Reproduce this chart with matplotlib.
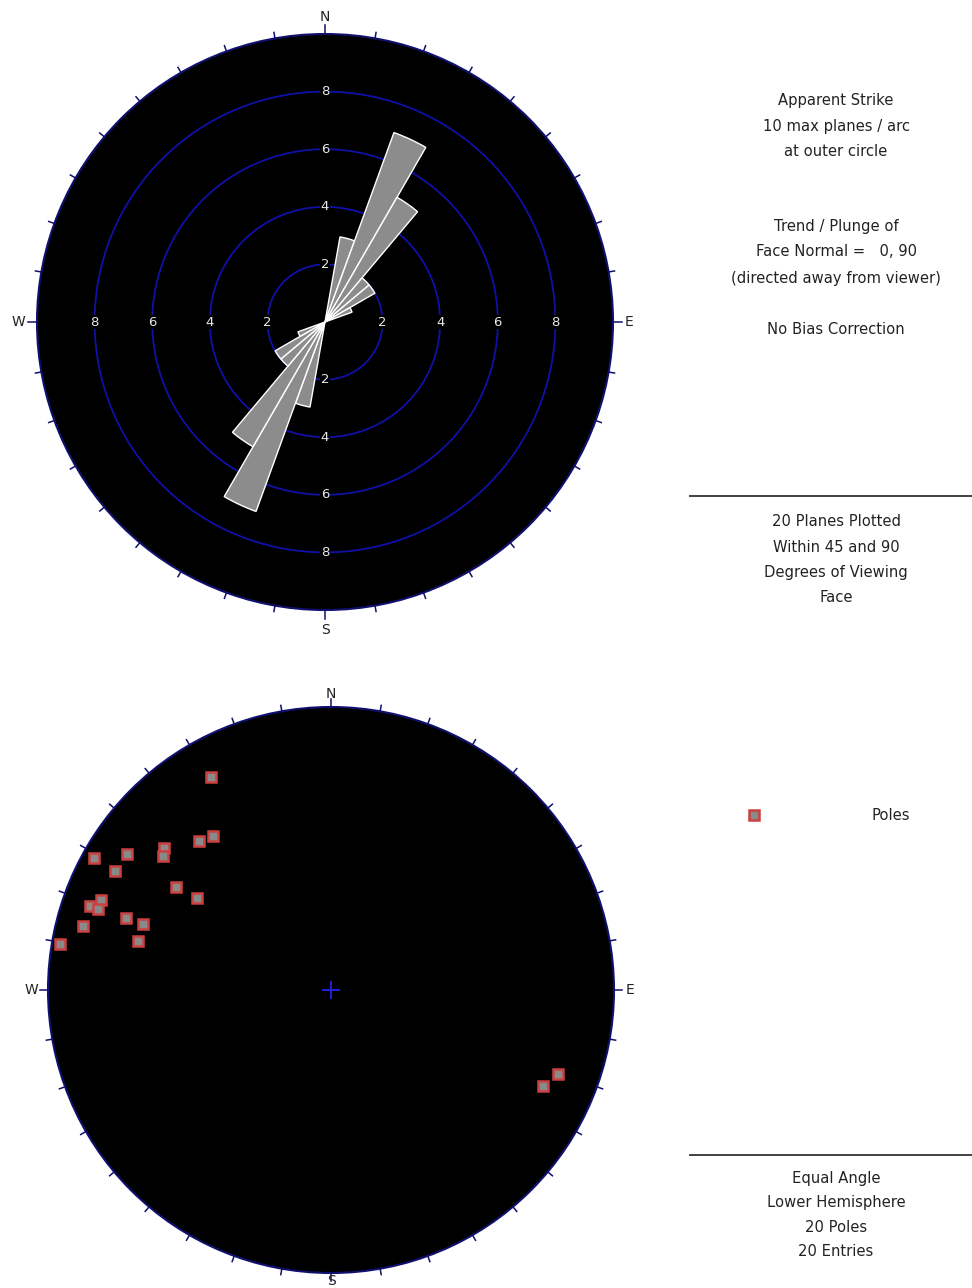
import numpy as np
import matplotlib
matplotlib.use("Agg")
import matplotlib.pyplot as plt
from matplotlib.patches import Circle, Wedge

# rose diagram: apparent strike counts in 10 degree bins (0-180, mirrored)
bin_start = np.arange(0, 180, 10)
strike_counts = [0, 3, 7, 5, 2, 2, 1, 0, 0, 0, 0, 0, 0, 0, 0, 0, 0, 0]
max_planes = 10
ring_values = [2, 4, 6, 8]

# poles (trend, plunge) in degrees
pole_trend = [330.5, 322.5, 318.4, 310.4, 308.6, 303.8, 299.1, 298.9, 303.7, 304.6,
              291.3, 289.1, 289.1, 289.5, 289.3, 284.4, 284.2, 279.6, 110.4, 114.4]
pole_plunge = [8.4, 21.1, 19.8, 14.5, 15.6, 8.2, 2.4, 7.9, 23.3, 30.2,
               7.9, 5.9, 7.9, 15.0, 19.8, 5.7, 19.8, 1.7, 9.0, 11.0]

info_top = [
    (101, "Apparent Strike"), (126, "10 max planes / arc"), (152, "at outer circle"),
    (227, "Trend / Plunge of"), (252, "Face Normal =   0, 90"),
    (278, "(directed away from viewer)"), (329, "No Bias Correction"),
    (522, "20 Planes Plotted"), (547, "Within 45 and 90"),
    (573, "Degrees of Viewing"), (598, "Face"),
]
info_bottom = [
    (1179, "Equal Angle"), (1203, "Lower Hemisphere"),
    (1227, "20 Poles"), (1251, "20 Entries"),
]

W, H = 972, 1288
RING = "#1010a8"
EDGE = "#10106e"
TXT = "#222222"
INFO_FS = 10.6

fig = plt.figure(figsize=(W / 100, H / 100), dpi=100)
fig.patch.set_facecolor("white")


def px_axes(x0, x1, y0, y1, cx, cy, scale):
    # axes placed in pixel box, data units = pixels / scale, origin at (cx, cy)
    ax = fig.add_axes([x0 / W, 1 - y1 / H, (x1 - x0) / W, (y1 - y0) / H])
    ax.set_xlim((x0 - cx) / scale, (x1 - cx) / scale)
    ax.set_ylim((cy - y1) / scale, (cy - y0) / scale)
    ax.set_aspect("equal")
    ax.axis("off")
    return ax


def compass_frame(ax, radius, tick_len, card_len, label_off):
    ax.add_patch(Circle((0, 0), radius, facecolor="black", edgecolor=EDGE, lw=1.5, zorder=1))
    for az in range(0, 360, 10):
        a = np.radians(az)
        ln = card_len if az % 90 == 0 else tick_len
        ax.plot([radius * np.sin(a), (radius + ln) * np.sin(a)],
                [radius * np.cos(a), (radius + ln) * np.cos(a)],
                color=EDGE, lw=1.1, zorder=2)
    for lab, az in [("N", 0), ("E", 90), ("S", 180), ("W", 270)]:
        a = np.radians(az)
        off = label_off[lab]
        ax.text((radius + off) * np.sin(a), (radius + off) * np.cos(a), lab,
                ha="center", va="center", fontsize=10, color=TXT)


# --- rose diagram ---
s1 = 28.8
ax1 = px_axes(0, 650, 0, 644, 325, 322, s1)
compass_frame(ax1, max_planes, 6 / s1, 9 / s1,
              {"N": 17 / s1, "S": 20 / s1, "E": 16 / s1, "W": 19 / s1})
for rv in ring_values:
    ax1.add_patch(Circle((0, 0), rv, facecolor="none", edgecolor=RING, lw=1.3, zorder=2))
    for az in [0, 90, 180, 270]:
        a = np.radians(az)
        ax1.text(rv * np.sin(a), rv * np.cos(a), str(rv), ha="center", va="center",
                 fontsize=9.5, color="#e8e8e8", zorder=3,
                 bbox=dict(facecolor="black", edgecolor="none", pad=0.5))
for b, c in zip(bin_start, strike_counts):
    if c == 0:
        continue
    for off in (0, 180):
        a1, a2 = b + off, b + off + 10
        ax1.add_patch(Wedge((0, 0), c, 90 - a2, 90 - a1, facecolor="#8c8c8c",
                            edgecolor="white", lw=1.0, zorder=4))

# --- stereonet of poles ---
s2 = 283.0
ax2 = px_axes(0, 662, 692, 1288, 331, 990, s2)
compass_frame(ax2, 1.0, 6 / s2, 8 / s2,
              {"N": 13 / s2, "S": 8 / s2, "E": 16 / s2, "W": 17 / s2})
tr = np.radians(pole_trend)
rr = np.tan(np.radians(90 - np.array(pole_plunge)) / 2)
ax2.plot(rr * np.sin(tr), rr * np.cos(tr), "s", ms=7.3, mfc="#8a8a8a", mec="#cc4040",
         mew=1.8, ls="none", zorder=5)
ax2.plot([0], [0], "+", ms=13, mew=1.4, color="#2020e0", zorder=5)

# --- info panel ---
for y, t in info_top + info_bottom:
    fig.text(836 / W, 1 - y / H, t, ha="center", va="center", fontsize=INFO_FS, color=TXT)
for y in (496, 1155):
    fig.add_artist(plt.Line2D([690 / W, 1.0], [1 - y / H, 1 - y / H], color="#333333", lw=1.3))
fig.add_artist(plt.Line2D([754 / W], [1 - 815 / H], marker="s", ms=7.3, mfc="#8a8a8a",
                          mec="#cc4040", mew=1.8, ls="none"))
fig.text(891 / W, 1 - 815 / H, "Poles", ha="center", va="center", fontsize=INFO_FS, color=TXT)

fig.savefig("out.png", dpi=100, facecolor="white")
